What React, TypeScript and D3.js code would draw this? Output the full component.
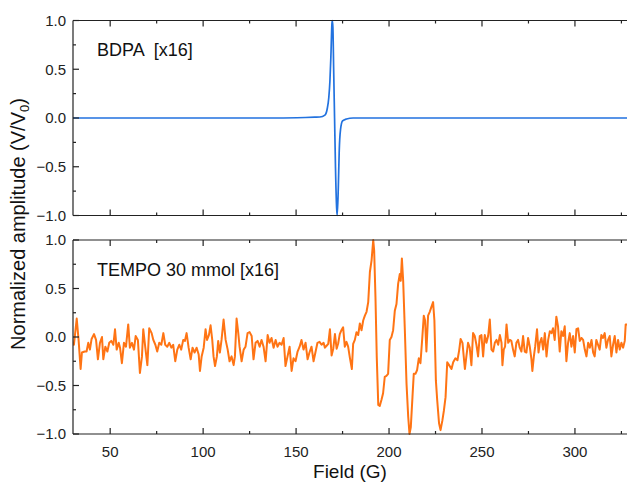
import React from "react";
import { scaleLinear, line, curveMonotoneX, format } from "d3";

// BDPA reference signal (field in G, normalized amplitude)
const bdpaField = [30, 60, 100, 140, 155, 160, 162.8, 165.5, 166.7, 167.6, 168.2, 168.7, 169.3, 169.5, 169.8, 170.2, 170.7, 171.2, 171.8, 172.1, 172.7, 173.2, 173.9, 175, 177.1, 180.7, 200, 250, 300, 328];
const bdpaAmp = [0, 0, 0, 0, 0.005, 0.008, 0.01, 0.03, 0.09, 0.21, 0.38, 0.62, 0.97, 1.0, 0.93, 0.51, 0.0, -0.51, -0.92, -1.0, -0.72, -0.34, -0.12, -0.03, -0.01, 0, 0, 0, 0, 0];

// TEMPO 30 mmol signal
const tempoField = [
  30.0, 30.5, 32.0, 33.0, 34.1, 34.8, 36.3, 37.3, 38.2, 39.1, 40.0, 41.3, 42.4, 43.4, 44.5, 45.6, 46.3, 47.4, 48.5, 49.5,
  50.6, 51.7, 52.6, 53.5, 54.6, 55.3, 56.3, 57.4, 58.5, 59.7, 60.6, 61.7, 62.8, 63.7, 64.9, 66.0, 67.1, 67.8, 68.9, 70.0,
  71.0, 72.3, 73.2, 74.3, 75.3, 76.4, 77.5, 78.6, 79.6, 80.7, 81.8, 82.9, 83.9, 85.0, 86.1, 87.2, 88.2, 89.3, 90.2, 91.1,
  92.2, 93.3, 94.3, 95.4, 96.5, 97.6, 98.3, 99.2, 100.3, 101.3, 102.1, 103.1, 104.0, 104.9, 105.6, 106.4, 107.4, 108.1, 109.0, 109.9,
  111.0, 112.1, 113.2, 114.2, 115.3, 116.4, 117.1, 118.0, 118.9, 119.6, 120.7, 121.8, 122.8, 123.9, 125.0, 126.1, 127.1, 128.2, 129.3, 130.4,
  131.4, 132.5, 133.6, 134.7, 135.7, 136.8, 137.9, 139.0, 140.0, 141.1, 142.2, 143.3, 144.3, 145.4, 146.5, 147.6, 148.6, 149.7, 150.8, 151.9,
  152.9, 154.0, 155.1, 156.2, 157.2, 158.3, 159.4, 160.5, 161.5, 162.6, 163.7, 164.8, 165.5, 166.4, 167.3, 168.2, 169.1, 170.0, 170.9, 171.8,
  172.6, 173.5, 174.4, 175.3, 176.2, 177.1, 178.0, 178.9, 180.0, 180.7, 181.6, 182.5, 183.4, 184.3, 185.2, 186.1, 187.0, 187.9, 188.8, 189.7,
  190.6, 191.5, 192.0, 192.7, 193.4, 194.2, 195.0, 195.9, 196.8, 197.7, 198.6, 199.5, 200.4, 201.3, 202.2, 203.1, 204.0, 204.9, 205.8, 206.3,
  206.9, 207.6, 208.5, 209.4, 210.3, 211.0, 211.7, 212.6, 213.3, 214.2, 215.1, 216.0, 216.9, 217.8, 218.7, 219.4, 220.1, 221.0, 221.9, 222.8,
  223.7, 224.4, 225.2, 225.9, 226.9, 227.7, 228.7, 229.5, 230.4, 231.3, 232.3, 233.6, 234.5, 235.7, 236.8, 237.7, 238.5, 239.5, 240.8, 241.6,
  242.5, 243.4, 244.3, 245.2, 246.1, 247.0, 247.9, 248.8, 249.7, 250.6, 251.5, 252.4, 253.3, 254.2, 255.1, 256.0, 256.9, 257.8, 258.7, 259.6,
  260.5, 261.0, 261.7, 262.4, 263.2, 264.1, 265.0, 265.8, 266.7, 267.6, 268.5, 269.4, 270.3, 271.2, 272.1, 273.0, 273.9, 274.8, 275.7, 276.6,
  277.1, 277.9, 278.6, 279.6, 280.4, 281.1, 282.0, 282.9, 283.8, 284.7, 285.6, 286.5, 287.4, 288.2, 289.1, 290.0, 290.9, 291.8, 292.7, 293.6,
  294.5, 295.4, 296.3, 297.2, 298.1, 299.0, 299.9, 300.8, 301.7, 302.6, 303.5, 304.4, 305.3, 306.2, 307.1, 308.0, 308.9, 309.8, 310.6, 311.5,
  312.4, 313.3, 314.2, 315.1, 316.0, 316.9, 317.8, 318.7, 319.6, 320.5, 321.4, 322.3, 323.2, 324.1, 325.0, 325.9, 326.8, 327.3, 328.0,
];
const tempoAmp = [
  -0.05, -0.08, 0.19, -0.03, -0.33, -0.16, -0.15, -0.15, -0.06, -0.13, -0.02, 0.03, -0.03, -0.23, -0.06, 0.0, -0.23, -0.1, -0.15, -0.06,
  -0.04, -0.08, 0.08, -0.13, -0.06, -0.11, -0.27, -0.06, -0.1, 0.13, -0.11, -0.06, -0.13, 0.01, -0.03, -0.37, -0.2, 0.08, -0.11, -0.29,
  0.09, 0.04, -0.03, -0.08, -0.15, -0.06, -0.08, 0.04, -0.08, -0.1, -0.06, -0.11, -0.08, -0.25, -0.13, -0.08, -0.13, -0.03, -0.04, 0.04,
  -0.11, -0.23, -0.11, -0.16, -0.11, -0.18, -0.35, -0.2, -0.11, 0.08, -0.03, 0.02, 0.12, -0.03, -0.2, -0.3, -0.2, -0.04, -0.16, -0.03,
  0.18, -0.03, -0.13, -0.25, -0.2, -0.29, -0.2, 0.19, 0.04, -0.1, -0.25, -0.13, -0.1, 0.04, 0.05, 0.01, -0.23, -0.06, -0.04, -0.1,
  -0.03, -0.1, -0.25, 0.02, -0.06, -0.01, -0.11, -0.03, -0.1, -0.06, -0.08, -0.01, -0.3, -0.2, -0.1, -0.35, -0.22, -0.25, -0.15, -0.1,
  -0.03, -0.13, -0.06, -0.23, -0.16, -0.1, -0.25, -0.15, -0.06, -0.05, -0.08, -0.06, -0.11, -0.09, -0.07, 0.08, -0.19, -0.12, 0.03, -0.12,
  -0.07, 0.03, 0.07, 0.1, -0.1, -0.05, -0.1, -0.21, -0.33, -0.07, -0.03, 0.05, 0.02, 0.14, 0.07, 0.17, 0.22, 0.26, 0.36, 0.67,
  0.79, 1.0, 0.89, 0.41, -0.21, -0.7, -0.71, -0.65, -0.58, -0.41, -0.4, -0.38, -0.03, 0.0, 0.07, 0.27, 0.34, 0.55, 0.65, 0.58,
  0.81, 0.58, 0.07, -0.48, -0.82, -1.0, -0.93, -0.62, -0.38, -0.38, -0.34, -0.22, -0.27, -0.03, 0.22, 0.17, -0.15, 0.22, 0.26, 0.31,
  0.36, 0.17, -0.45, -0.65, -0.89, -0.96, -0.86, -0.76, -0.62, -0.26, -0.29, -0.33, -0.26, -0.22, -0.24, -0.14, -0.02, -0.06, -0.33, -0.2,
  -0.06, -0.11, -0.29, 0.04, 0.01, -0.08, -0.2, 0.01, 0.02, -0.2, 0.02, -0.06, 0.01, 0.18, -0.13, -0.15, -0.06, -0.03, -0.08, 0.02,
  -0.06, -0.29, -0.13, -0.1, 0.13, -0.06, -0.03, -0.04, -0.13, -0.2, -0.06, -0.03, -0.11, -0.15, 0.01, -0.15, -0.16, -0.01, -0.1, -0.23,
  -0.35, -0.2, -0.1, 0.08, -0.16, -0.06, -0.01, -0.13, 0.04, -0.2, -0.03, 0.06, 0.04, 0.09, -0.03, 0.21, 0.11, -0.15, 0.06, 0.01,
  0.11, -0.25, -0.06, 0.04, -0.1, 0.01, -0.16, 0.08, 0.09, -0.04, -0.01, -0.03, -0.13, -0.2, -0.06, -0.11, -0.03, -0.16, -0.2, -0.03,
  -0.08, -0.13, 0.02, -0.01, 0.04, -0.11, -0.03, 0.01, -0.2, -0.08, 0.01, -0.16, -0.03, -0.13, -0.06, -0.11, -0.04, 0.13, 0.13,
];

const xMajor = [50, 100, 150, 200, 250, 300];
const xMinor = [75, 125, 175, 225, 275, 325];
const yMajor = [-1, -0.5, 0, 0.5, 1];
const yMinor = [-0.75, -0.25, 0.25, 0.75];

const W = 627;
const H = 485;
const left = 73;
const right = 627;
const font = "'Liberation Sans', Arial, sans-serif";
const axisColor = "#222";

const x = scaleLinear().domain([30, 328]).range([left, right]);
const fmt = format(".1f");

const panels = [
  { name: "bdpa", label: "BDPA  [x16]", top: 20.5, bottom: 215.5, color: "#2272df", width: 1.7, field: bdpaField, amp: bdpaAmp, smooth: true },
  { name: "tempo", label: "TEMPO 30 mmol [x16]", top: 240, bottom: 434, color: "#ff7414", width: 2, field: tempoField, amp: tempoAmp, smooth: false },
];

const Panel = ({ p }: { p: (typeof panels)[number] }) => {
  const y = scaleLinear().domain([-1, 1]).range([p.bottom, p.top]);
  const pts: [number, number][] = p.field.map((f, i) => [f, p.amp[i]]);
  const gen = line<[number, number]>()
    .x((d) => x(d[0]))
    .y((d) => y(d[1]));
  if (p.smooth) gen.curve(curveMonotoneX);
  return (
    <g>
      <defs>
        <clipPath id={`clip-${p.name}`}>
          <rect x={left} y={p.top - 2} width={right - left} height={p.bottom - p.top + 4} />
        </clipPath>
      </defs>
      <path d={gen(pts) || ""} fill="none" stroke={p.color} strokeWidth={p.width} strokeLinejoin="round" clipPath={`url(#clip-${p.name})`} />
      {/* frame */}
      <line x1={left} x2={right} y1={p.top} y2={p.top} stroke={axisColor} strokeWidth={1.2} />
      <line x1={left} x2={right} y1={p.bottom} y2={p.bottom} stroke={axisColor} strokeWidth={1.2} />
      <line x1={left} x2={left} y1={p.top} y2={p.bottom} stroke={axisColor} strokeWidth={1.2} />
      {/* x ticks, inward on both edges */}
      {xMajor.map((t) => (
        <g key={`xM${t}`}>
          <line x1={x(t)} x2={x(t)} y1={p.bottom} y2={p.bottom - 6} stroke={axisColor} strokeWidth={1.2} />
          <line x1={x(t)} x2={x(t)} y1={p.top} y2={p.top + 6} stroke={axisColor} strokeWidth={1.2} />
        </g>
      ))}
      {xMinor.map((t) => (
        <g key={`xm${t}`}>
          <line x1={x(t)} x2={x(t)} y1={p.bottom} y2={p.bottom - 3} stroke={axisColor} strokeWidth={1.2} />
          <line x1={x(t)} x2={x(t)} y1={p.top} y2={p.top + 3} stroke={axisColor} strokeWidth={1.2} />
        </g>
      ))}
      {/* y ticks */}
      {yMajor.map((t) => (
        <g key={`yM${t}`}>
          <line x1={left} x2={left + 6} y1={y(t)} y2={y(t)} stroke={axisColor} strokeWidth={1.2} />
          <text x={left - 7} y={y(t)} dy="0.36em" textAnchor="end" fontSize={15} fill="#222">
            {fmt(t)}
          </text>
        </g>
      ))}
      {yMinor.map((t) => (
        <line key={`ym${t}`} x1={left} x2={left + 3} y1={y(t)} y2={y(t)} stroke={axisColor} strokeWidth={1.2} />
      ))}
      <text x={97} y={p.top + 35.5} fontSize={18} fill="#111" style={{ whiteSpace: "pre" }}>
        {p.label}
      </text>
    </g>
  );
};

const App = () => {
  const bottom = panels[1].bottom;
  return (
    <svg width={W} height={H} style={{ position: "absolute", left: 0, top: 0, background: "#fff" }} fontFamily={font}>
      {panels.map((p) => (
        <Panel key={p.name} p={p} />
      ))}
      {xMajor.map((t) => (
        <text key={`xl${t}`} x={x(t)} y={bottom + 23} textAnchor="middle" fontSize={15} fill="#222">
          {t}
        </text>
      ))}
      <text x={(left + right) / 2} y={478} textAnchor="middle" fontSize={19} fill="#111">
        Field (G)
      </text>
      <text transform={`translate(25, 224) rotate(-90)`} textAnchor="middle" fontSize={20} fill="#111">
        <tspan>Normalized amplitude (V/V</tspan>
        <tspan fontSize={13} dy={4}>0</tspan>
        <tspan dy={-4}>)</tspan>
      </text>
    </svg>
  );
};

export default App;
